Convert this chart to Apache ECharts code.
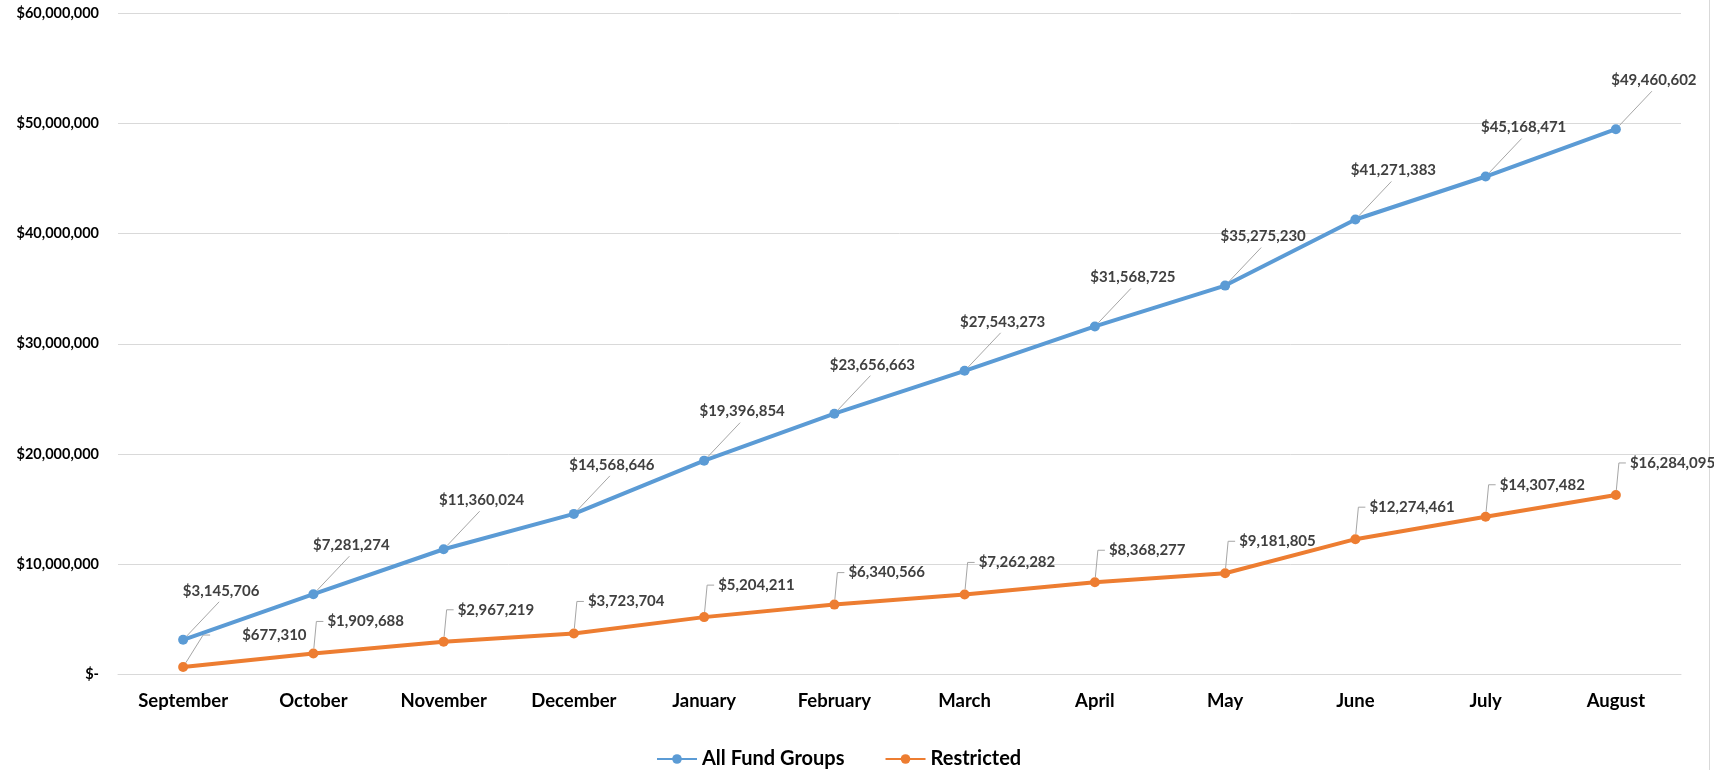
<!DOCTYPE html>
<html>
<head>
<meta charset="utf-8">
<script src="https://cdn.jsdelivr.net/npm/echarts@6/dist/echarts.min.js"></script>
<style>
html,body{margin:0;padding:0;background:#fff;}
#chart{width:1714px;height:770px;}
</style>
</head>
<body>
<div id="chart"></div>
<script>
const categories = ['September','October','November','December','January','February','March','April','May','June','July','August'];
const allFundGroups = [3145706, 7281274, 11360024, 14568646, 19396854, 23656663, 27543273, 31568725, 35275230, 41271383, 45168471, 49460602];
const restricted = [677310, 1909688, 2967219, 3723704, 5204211, 6340566, 7262282, 8368277, 9181805, 12274461, 14307482, 16284095];
const seriesNames = ['All Fund Groups', 'Restricted'];

function money(v) {
  if (v === 0) return '$-';
  return '$' + Math.round(v).toString().replace(/\B(?=(\d{3})+(?!\d))/g, ',');
}

const FONT = 'Lato';
const LABEL_FONT = 'bold 15px Lato';
const LEADER = '#a6a6a6';

// Label above the point, leader to bottom-centre of label (blue series)
function aboveLabel(params, api) {
  const p = api.coord([api.value(0), api.value(1)]);
  const dx = 38, dy = -49;
  const tx = p[0] + dx, ty = p[1] + dy;
  const ex = tx - 2, ey = ty + 11;
  const len = Math.hypot(ex - p[0], ey - p[1]);
  const sx = p[0] + (ex - p[0]) / len * 5, sy = p[1] + (ey - p[1]) / len * 5;
  return {
    type: 'group',
    children: [
      { type: 'line', shape: { x1: sx, y1: sy, x2: ex, y2: ey }, style: { stroke: LEADER, lineWidth: 1 } },
      { type: 'text', x: tx, y: ty, style: { text: money(api.value(1)), font: LABEL_FONT, fill: '#404040', align: 'center', verticalAlign: 'middle' } }
    ]
  };
}

// Label up-right of the point, leader with a short horizontal stub (orange series)
function sideLabel(params, api) {
  const p = api.coord([api.value(0), api.value(1)]);
  const first = params.dataIndex === 0;
  const left = first ? 59 : 14;
  const dy = -32;
  const stub = first ? 20 : 3;
  const tx = p[0] + left, ty = p[1] + dy;
  const bx = p[0] + stub, by = ty;
  const len = Math.hypot(bx - p[0], by - p[1]);
  const sx = p[0] + (bx - p[0]) / len * 5, sy = p[1] + (by - p[1]) / len * 5;
  return {
    type: 'group',
    children: [
      { type: 'polyline', shape: { points: [[sx, sy], [bx, by], [bx + 7, by]] }, style: { stroke: LEADER, lineWidth: 1, fill: null } },
      { type: 'text', x: tx, y: ty, style: { text: money(api.value(1)), font: LABEL_FONT, fill: '#404040', align: 'left', verticalAlign: 'middle' } }
    ]
  };
}

const chart = echarts.init(document.getElementById('chart'));
chart.setOption({
  animation: false,
  backgroundColor: '#ffffff',
  grid: { left: 118, right: 33, top: 13, bottom: 95.5 },
  legend: {
    data: seriesNames,
    top: 744,
    left: 651,
    itemGap: 40,
    itemWidth: 40,
    itemHeight: 12,
    textStyle: { fontFamily: FONT, fontWeight: 'bold', fontSize: 20, color: '#000' }
  },
  xAxis: {
    type: 'category',
    data: categories,
    boundaryGap: true,
    axisLine: { lineStyle: { color: '#d9d9d9', width: 1 } },
    axisTick: { show: false },
    axisLabel: { fontFamily: FONT, fontWeight: 'bold', fontSize: 18.5, color: '#000', margin: 17 }
  },
  yAxis: {
    type: 'value',
    min: 0, max: 60000000, interval: 10000000,
    axisLine: { show: false },
    axisTick: { show: false },
    splitLine: { lineStyle: { color: '#d9d9d9', width: 1 } },
    axisLabel: { fontFamily: FONT, fontWeight: 'bold', fontSize: 14.5, color: '#000', margin: 19, formatter: money }
  },
  graphic: [{
    type: 'line', shape: { x1: 1709.5, y1: 0, x2: 1709.5, y2: 770 },
    style: { stroke: '#d9d9d9', lineWidth: 1 }
  }],
  series: [
    {
      name: seriesNames[0], type: 'line', data: allFundGroups,
      color: '#5B9BD5',
      lineStyle: { width: 4 },
      symbol: 'circle', symbolSize: 10, z: 3
    },
    {
      name: seriesNames[1], type: 'line', data: restricted,
      color: '#ED7D31',
      lineStyle: { width: 4 },
      symbol: 'circle', symbolSize: 10, z: 3
    },
    {
      name: 'labels-all', type: 'custom', z: 2, silent: true,
      data: allFundGroups.map((v, i) => [i, v]),
      encode: { x: 0, y: 1 },
      renderItem: aboveLabel
    },
    {
      name: 'labels-restricted', type: 'custom', z: 2, silent: true,
      data: restricted.map((v, i) => [i, v]),
      encode: { x: 0, y: 1 },
      renderItem: sideLabel
    }
  ]
});
</script>
</body>
</html>
